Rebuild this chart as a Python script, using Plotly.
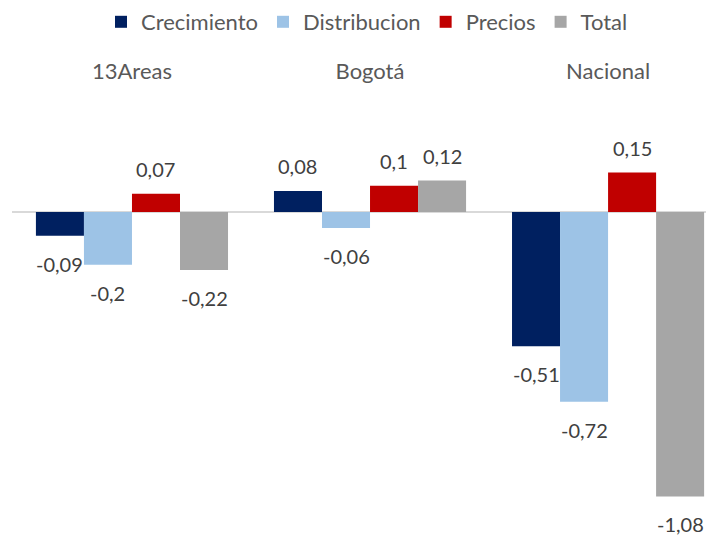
import plotly.graph_objects as go

categories = ["13Areas", "Bogotá", "Nacional"]
series_names = ["Crecimiento", "Distribucion", "Precios", "Total"]
crecimiento = [-0.09, 0.08, -0.51]
distribucion = [-0.2, -0.06, -0.72]
precios = [0.07, 0.1, 0.15]
total = [-0.22, 0.12, -1.08]
colors = ["#002060", "#9DC3E6", "#C00000", "#A6A6A6"]

def fmt(v):
    return str(v).replace(".", ",")

# page body has an 8px margin; figure sized/margined to compensate
W, H = 706, 528
L, R, T, B = 4, 0, 83, 8
x_range = [-0.504, 2.445]
y_range = [-1.2, 0.46]
bargap = 0.193
cat_px = (W - L - R) / (x_range[1] - x_range[0])
bar_px = cat_px * (1 - bargap) / 4

all_vals = [crecimiento, distribucion, precios, total]

fig = go.Figure()
annotations = []
for i, (name, vals, col) in enumerate(zip(series_names, all_vals, colors)):
    fig.add_trace(go.Bar(
        x=categories, y=vals, name=name, marker_color=col, marker_line_width=0,
    ))
    for c, v in zip(categories, vals):
        annotations.append(dict(
            x=c, y=v, xref="x", yref="y", text=fmt(v), showarrow=False,
            xshift=(i - 1.5) * bar_px, yshift=25 if v > 0 else -28,
            yanchor="middle", xanchor="center",
            font=dict(size=20, color="#404040", family="Lato"),
        ))

fig.update_layout(
    width=W, height=H,
    barmode="group", bargap=bargap, bargroupgap=0,
    plot_bgcolor="white", paper_bgcolor="white",
    font=dict(family="Lato", size=21, color="#595959"),
    margin=dict(l=L, r=R, t=T, b=B),
    annotations=annotations,
    legend=dict(orientation="h", xref="container", x=359 / W, xanchor="center",
                yref="container", y=1 - 14 / H, yanchor="middle",
                font=dict(size=22, color="#595959"), traceorder="normal",
                itemwidth=30),
    xaxis=dict(side="top", showline=False, ticks="", range=x_range, automargin=False,
               ticklabelstandoff=7, tickfont=dict(size=22, color="#595959")),
    yaxis=dict(range=y_range, showgrid=False, showticklabels=False, automargin=False,
               zeroline=True, zerolinecolor="#D9D9D9", zerolinewidth=1.5),
)

fig.write_html("out.html")
